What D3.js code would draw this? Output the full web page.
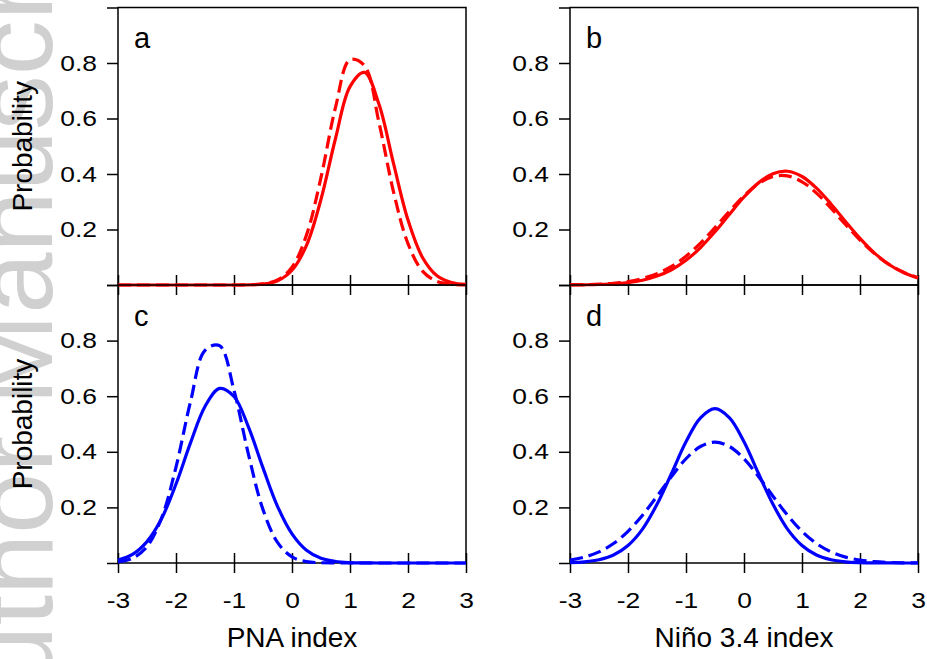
<!DOCTYPE html>
<html>
<head>
<meta charset="utf-8">
<script src="https://cdn.jsdelivr.net/npm/d3@7"></script>
<style>
  body { margin: 0; background: #fff; }
  svg { display: block; font-family: "Liberation Sans", Arial, sans-serif; }
</style>
</head>
<body>
<div id="chart"></div>
<script>
// sample positions along the index axis
let xs = [-3, -2.75, -2.5, -2.25, -2, -1.75, -1.5, -1.25, -1, -0.75, -0.5, -0.25, 0,
          0.25, 0.5, 0.75, 1, 1.25, 1.5, 1.75, 2, 2.25, 2.5, 2.75, 3]

let xTicks = [-3, -2, -1, 0, 1, 2, 3]
let yTicks = [0, 0.2, 0.4, 0.6, 0.8, 1]
let panelLetters = ['a', 'b', 'c', 'd']
let xTitles = ['PNA index', 'Niño 3.4 index']
let yTitle = 'Probability'

// probability curves
let aSolid  = [0, 0, 0, 0, 0, 0, 0, 0, 0, 0.0006, 0.0035, 0.015, 0.053, 0.143, 0.309, 0.528, 0.715, 0.766, 0.651, 0.438, 0.234, 0.099, 0.033, 0.009, 0.002]
let aDashed = [0, 0, 0, 0, 0, 0, 0, 0, 0, 0.0006, 0.004, 0.018, 0.064, 0.180, 0.388, 0.640, 0.812, 0.790, 0.585, 0.336, 0.149, 0.050, 0.013, 0.003, 0.0004]
let bSolid  = [0.0003, 0.0008, 0.0018, 0.0041, 0.0087, 0.017, 0.032, 0.055, 0.089, 0.135, 0.192, 0.255, 0.317, 0.368, 0.401, 0.410, 0.391, 0.349, 0.292, 0.229, 0.168, 0.115, 0.074, 0.045, 0.025]
let bDashed = [0.0006, 0.0014, 0.003, 0.0064, 0.0126, 0.0235, 0.041, 0.067, 0.104, 0.151, 0.207, 0.266, 0.321, 0.365, 0.391, 0.393, 0.372, 0.331, 0.277, 0.218, 0.162, 0.113, 0.074, 0.046, 0.026]
let cSolid  = [0.011, 0.031, 0.077, 0.159, 0.284, 0.432, 0.563, 0.628, 0.599, 0.489, 0.342, 0.204, 0.105, 0.046, 0.017, 0.0055, 0.0015, 0.0004, 0, 0, 0, 0, 0, 0, 0]
let cDashed = [0.004, 0.017, 0.059, 0.161, 0.345, 0.580, 0.765, 0.782, 0.621, 0.390, 0.192, 0.074, 0.022, 0.005, 0.001, 0.0002, 0, 0, 0, 0, 0, 0, 0, 0, 0]
let dSolid  = [0.0013, 0.0041, 0.0116, 0.0287, 0.063, 0.122, 0.211, 0.322, 0.436, 0.522, 0.555, 0.522, 0.436, 0.322, 0.211, 0.122, 0.063, 0.0287, 0.0116, 0.0041, 0.0013, 0.0004, 0.0001, 0, 0]
let dDashed = [0.0106, 0.0214, 0.040, 0.070, 0.114, 0.172, 0.240, 0.311, 0.375, 0.419, 0.435, 0.419, 0.375, 0.311, 0.240, 0.172, 0.114, 0.070, 0.040, 0.021, 0.0106, 0.0048, 0.0021, 0.0008, 0.0003]

let panels = [
  { letter: panelLetters[0], col: 0, row: 0, solid: aSolid, dashed: aDashed, color: '#ff0000' },
  { letter: panelLetters[1], col: 1, row: 0, solid: bSolid, dashed: bDashed, color: '#ff0000' },
  { letter: panelLetters[2], col: 0, row: 1, solid: cSolid, dashed: cDashed, color: '#0000ff' },
  { letter: panelLetters[3], col: 1, row: 1, solid: dSolid, dashed: dDashed, color: '#0000ff' }
]

let width = 927,
    height = 659

// pixel extents of the panel columns and rows
let cols = [[118, 466], [570, 918]]
let rows = [[7.5, 285], [285, 563]]

// tick labels in the original are a bit wider than plain Arial
let stretch = 1.2

let svg = d3.select('#chart')
  .append('svg')
  .attr('width', width)
  .attr('height', height)

// faded watermark running up the left margin
svg.append('text')
  .attr('transform', 'translate(52,760) rotate(-90)')
  .style('font-size', '110px')
  .style('fill', '#d0d0d0')
  .text('Author Manuscript')

panels.forEach(p => {
  let x = d3.scaleLinear().domain([-3, 3]).range(cols[p.col])
  let y = d3.scaleLinear().domain([0, 1]).range([rows[p.row][1], rows[p.row][0]])
  let g = svg.append('g')

  // frame
  g.append('rect')
    .attr('x', x(-3))
    .attr('y', y(1))
    .attr('width', x(3) - x(-3))
    .attr('height', y(0) - y(1))
    .attr('fill', 'none')
    .attr('stroke', 'black')
    .attr('stroke-width', 1.5)

  // y axis, labels only for the inner ticks
  let yAxis = g.append('g')
    .attr('transform', 'translate(' + x(-3) + ',0)')
    .call(d3.axisLeft(y).tickValues(yTicks).tickSize(11).tickPadding(10)
      .tickFormat(d => (d > 0 && d < 1) ? d3.format('.1f')(d) : ''))

  // x axis ticks cross the bottom edge, plain hyphen for negatives
  let xAxis = g.append('g')
    .attr('transform', 'translate(0,' + y(0) + ')')
    .call(d3.axisBottom(x).tickValues(xTicks).tickSize(10).tickPadding(19)
      .tickFormat(d => p.row == 1 ? String(d) : ''))
  let xInner = g.append('g')
    .attr('transform', 'translate(0,' + y(0) + ')')
    .call(d3.axisTop(x).tickValues(xTicks).tickSize(10).tickFormat(''))

  ;[yAxis, xAxis, xInner].forEach(a => {
    a.select('.domain').remove()
    a.selectAll('line').attr('stroke', 'black').attr('stroke-width', 1.5)
    a.selectAll('text')
      .style('font-size', '22px')
      .style('fill', 'black')
      .attr('x', function() { return (+d3.select(this).attr('x') || 0) / stretch })
      .attr('transform', 'scale(' + stretch + ',1)')
  })

  let line = d3.line()
    .x((d, i) => x(xs[i]))
    .y(d => y(d))
    .curve(d3.curveCatmullRom.alpha(0.5))

  g.append('path')
    .attr('d', line(p.solid))
    .attr('fill', 'none')
    .attr('stroke', p.color)
    .attr('stroke-width', 3.2)

  g.append('path')
    .attr('d', line(p.dashed))
    .attr('fill', 'none')
    .attr('stroke', p.color)
    .attr('stroke-width', 3.2)
    .attr('stroke-dasharray', '13,6')

  // panel letter
  g.append('text')
    .attr('x', x(-3) + 16)
    .attr('y', y(1) + 40.5)
    .style('font-size', '29px')
    .text(p.letter)

  if (p.col == 0) {
    g.append('text')
      .attr('transform', 'translate(32,' + (y(0) + y(1)) / 2 + ') rotate(-90)')
      .attr('text-anchor', 'middle')
      .style('font-size', '28px')
      .text(yTitle)
  }

  if (p.row == 1) {
    g.append('text')
      .attr('x', x(0))
      .attr('y', 646.5)
      .attr('text-anchor', 'middle')
      .style('font-size', '28px')
      .text(xTitles[p.col])
  }
})
</script>
</body>
</html>
